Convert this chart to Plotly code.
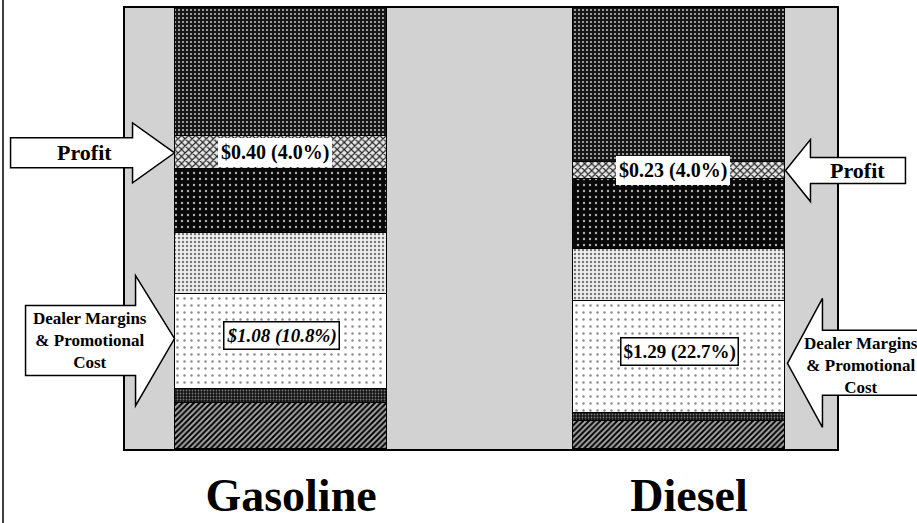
import plotly.graph_objects as go

# ---------------- data (heights in % of bar height) ----------------
categories = ["Gasoline", "Diesel"]
x_pos = [0, 1]

base_band = [10.4, 6.3]          # hatched bottom band
lower_band = [3.2, 1.8]          # thin dark band
dealer_margin = [21.5, 25.4]     # Dealer Margins & Promotional Cost
middle_band = [13.8, 11.8]       # light stipple band
upper_band = [14.5, 15.9]        # dark band
profit = [7.5, 3.9]              # Profit
top_band = [29.1, 34.9]          # dark top band

profit_labels = ["$0.40 (4.0%)", "$0.23 (4.0%)"]
dealer_labels = ["$1.08 (10.8%)", "$1.29 (22.7%)"]
dealer_label_italic = [True, False]

series_names = ["Base", "Lower band", "Dealer Margins & Promotional Cost",
                "Middle band", "Upper band", "Profit", "Top"]
series_values = [base_band, lower_band, dealer_margin, middle_band,
                 upper_band, profit, top_band]

# ---------------- styles ----------------
FONT = "Liberation Serif, Times New Roman, serif"
W, H = 917, 523
ML, MR, MT, MB = 125, 80, 8, 74
XRANGE = [-0.392, 1.397]
BAR_W = 0.535

patterns = [
    dict(shape="/", fgcolor="#000000", bgcolor="#a8a8a8", size=4, solidity=0.5, fillmode="replace"),
    dict(shape=".", fgcolor="#777777", bgcolor="#111111", size=3, solidity=0.3, fillmode="replace"),
    dict(shape=".", fgcolor="#8a8a8a", bgcolor="#ffffff", size=7, solidity=0.1, fillmode="replace"),
    dict(shape=".", fgcolor="#7a7a7a", bgcolor="#f0f0f0", size=4, solidity=0.3, fillmode="replace"),
    dict(shape=".", fgcolor="#b0b0b0", bgcolor="#080808", size=6, solidity=0.12, fillmode="replace"),
    dict(shape="x", fgcolor="#222222", bgcolor="#e6e6e6", size=5, solidity=0.4, fillmode="replace"),
    dict(shape=".", fgcolor="#c8c8c8", bgcolor="#161616", size=4, solidity=0.2, fillmode="replace"),
]

fig = go.Figure()
for name, vals, pat in zip(series_names, series_values, patterns):
    fig.add_trace(go.Bar(
        x=x_pos, y=vals, name=name, width=BAR_W,
        marker=dict(color=pat["bgcolor"], pattern=pat,
                    line=dict(color="black", width=1.5)),
        hoverinfo="name+y",
    ))

# cumulative positions for labels
def seg_mid(idx, i):
    below = sum(series_values[k][i] for k in range(idx))
    return below + series_values[idx][i] / 2.0

PROFIT_IDX = 5
DEALER_IDX = 2


def to_paper_x(xv):
    return (xv - XRANGE[0]) / (XRANGE[1] - XRANGE[0])


left_edge = [x - BAR_W / 2 for x in x_pos]
right_edge = [x + BAR_W / 2 for x in x_pos]

annotations = []
shapes = []

# value boxes
for i in range(len(categories)):
    annotations.append(dict(
        x=x_pos[i], y=seg_mid(PROFIT_IDX, i), xref="x", yref="y",
        xshift=-6, text="<b>%s</b>" % profit_labels[i], showarrow=False,
        font=dict(family=FONT, size=20, color="black"),
        bgcolor="white", borderpad=3, borderwidth=0,
    ))
    txt = "<b>%s</b>" % dealer_labels[i]
    if dealer_label_italic[i]:
        txt = "<i>%s</i>" % txt
    annotations.append(dict(
        x=x_pos[i], y=seg_mid(DEALER_IDX, i), xref="x", yref="y",
        yshift=6, text=txt, showarrow=False,
        font=dict(family=FONT, size=19, color="black"),
        bgcolor="white", bordercolor="black", borderwidth=1.5, borderpad=2,
    ))


def block_arrow(anchor_x_data, anchor_y, pts):
    path = "M " + " L ".join("%g,%g" % p for p in pts) + " Z"
    return dict(type="path", xref="paper", yref="y",
                xsizemode="pixel", ysizemode="pixel",
                xanchor=to_paper_x(anchor_x_data), yanchor=anchor_y,
                path=path, fillcolor="white",
                line=dict(color="black", width=1.5), layer="above")


# Profit arrows
shapes.append(block_arrow(left_edge[0], seg_mid(PROFIT_IDX, 0),
                          [(0, 0), (-42, 30), (-42, 15), (-164, 15), (-164, -15),
                           (-42, -15), (-42, -30)]))
shapes.append(block_arrow(right_edge[1], seg_mid(PROFIT_IDX, 1),
                          [(0, 0), (25, 31), (25, 13), (120, 13), (120, -13),
                           (25, -13), (25, -31)]))
# Dealer arrows
shapes.append(block_arrow(left_edge[0], seg_mid(DEALER_IDX, 0),
                          [(0, 3), (-39, 66), (-39, 36), (-149, 36), (-149, -34),
                           (-39, -34), (-39, -64)]))
shapes.append(block_arrow(right_edge[1], seg_mid(DEALER_IDX, 1),
                          [(2, -6), (37, 59), (37, 27), (150, 27), (150, -38),
                           (37, -38), (37, -70)]))

# arrow texts
annotations.append(dict(x=left_edge[0], y=seg_mid(PROFIT_IDX, 0), xref="x", yref="y",
                        xshift=-90, text="<b>Profit</b>", showarrow=False,
                        font=dict(family=FONT, size=22, color="black")))
annotations.append(dict(x=right_edge[1], y=seg_mid(PROFIT_IDX, 1), xref="x", yref="y",
                        xshift=72, text="<b>Profit</b>", showarrow=False,
                        font=dict(family=FONT, size=22, color="black")))
annotations.append(dict(x=left_edge[0], y=seg_mid(DEALER_IDX, 0), xref="x", yref="y",
                        xshift=-85, yshift=1,
                        text="<b>Dealer Margins<br>&amp; Promotional<br>Cost</b>",
                        showarrow=False, align="center",
                        font=dict(family=FONT, size=17, color="black")))
annotations.append(dict(x=right_edge[1], y=seg_mid(DEALER_IDX, 1), xref="x", yref="y",
                        xshift=76, yshift=-8,
                        text="<b>Dealer Margins<br>&amp; Promotional<br>Cost</b>",
                        showarrow=False, align="center",
                        font=dict(family=FONT, size=17, color="black")))

# page border line at the far left
shapes.append(dict(type="line", xref="paper", yref="paper",
                   x0=(3 - ML) / (W - ML - MR), x1=(3 - ML) / (W - ML - MR),
                   y0=-MB / (H - MT - MB), y1=(H - MB) / (H - MT - MB),
                   line=dict(color="black", width=1.5), layer="above"))

fig.update_layout(
    barmode="stack",
    width=W, height=H,
    margin=dict(l=ML, r=MR, t=MT, b=MB, pad=0),
    paper_bgcolor="white",
    plot_bgcolor="#d2d2d2",
    showlegend=False,
    bargap=0,
    annotations=annotations,
    shapes=shapes,
    xaxis=dict(range=XRANGE, tickvals=x_pos, ticktext=categories,
               tickfont=dict(family=FONT, size=46, color="black", weight="bold"),
               ticks="", showgrid=False, zeroline=False, automargin=False,
               showline=True, mirror=True, linecolor="black", linewidth=2,
               ticklabelstandoff=5, ticklabelshift=10, fixedrange=True),
    yaxis=dict(range=[0, 100], showticklabels=False, ticks="", showgrid=False,
               zeroline=False, showline=True, mirror=True, linecolor="black",
               linewidth=2, fixedrange=True, automargin=False),
)

fig.write_html("out.html")
